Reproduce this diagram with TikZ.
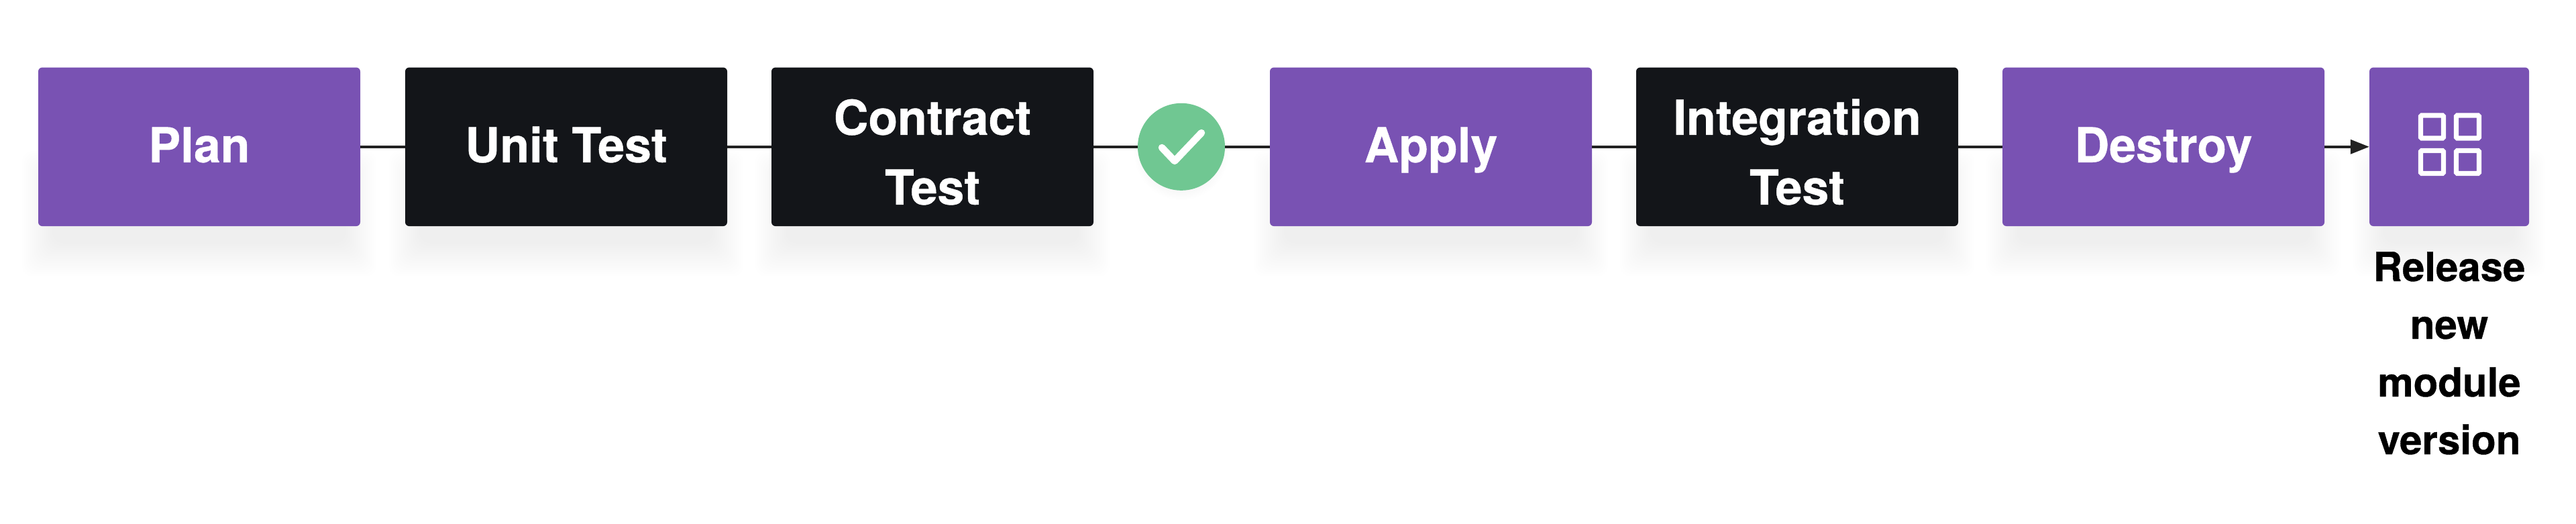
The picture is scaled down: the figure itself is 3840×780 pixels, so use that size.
\documentclass[tikz,border=0pt]{standalone}
\usepackage{fontspec}
\setmainfont{TeX Gyre Heros}[BoldFeatures={FakeBold=0.6}]
\usetikzlibrary{arrows.meta}
\definecolor{violetbox}{HTML}{7952B3}
\definecolor{darkbox}{HTML}{131519}
\definecolor{okgreen}{HTML}{70C792}
\definecolor{wire}{HTML}{222222}
\tikzset{
  x=1pt,y=-1pt,
  stage/.style={draw=none,rounded corners=6pt,minimum width=480pt,minimum height=236.5pt,inner sep=0pt,
    text=white,align=center,font=\fontsize{71.5}{104}\selectfont\bfseries},
  oneline/.style={text height=60pt,text depth=14pt},
  twoline/.style={text height=190pt,text depth=18pt},
  violetstage/.style={stage,fill=violetbox},
  darkstage/.style={stage,fill=darkbox},
  wireline/.style={draw=wire,line width=3.8pt},
  iconcell/.style={draw=white,line width=7.3pt,rounded corners=1.5pt},
}
\begin{document}
\begin{tikzpicture}
\useasboundingbox[fill=white] (0,0) rectangle (3840,780);
\foreach \cx/\w in {297/480,844/480,1390/480,2133/480,2679/480,3225/480,3651/238}{
  \foreach \k in {0,3,...,45}{
    \fill[black,opacity=0.0022,rounded corners=16pt]
      (\cx-\w/2-24+\k,225+\k) rectangle (\cx+\w/2+24-\k,412-\k*1.1);
  }
}
\foreach \k in {0,2,...,16}{
  \fill[black,opacity=0.003] (1761,228) circle[radius=70-\k];
}
\node[violetstage,oneline] (plan) at (297,218.8) {Plan};
\node[darkstage,oneline] (unit) at (844,218.8) {Unit Test};
\node[darkstage,twoline] (contract) at (1390,218.8) {Contract\\Test};
\node[circle,fill=okgreen,minimum size=130pt,inner sep=0pt] (ok) at (1761,218.8) {};
\node[violetstage,oneline] (apply) at (2133,218.8) {Apply};
\node[darkstage,twoline] (integration) at (2679,218.8) {Integration\\Test};
\node[violetstage,oneline] (destroy) at (3225,218.8) {Destroy};
\node[stage,fill=violetbox,minimum width=238pt] (release) at (3651,218.8) {};
\node[anchor=base,align=center,inner sep=0pt,text=black,font=\fontsize{60}{86}\selectfont\bfseries] (caption) at (3651,677) {Release\\new\\module\\version};
\draw[wireline] (plan.east) -- (unit.west);
\draw[wireline] (unit.east) -- (contract.west);
\draw[wireline] (contract.east) -- (ok.west);
\draw[wireline] (ok.east) -- (apply.west);
\draw[wireline] (apply.east) -- (integration.west);
\draw[wireline] (integration.east) -- (destroy.west);
\draw[wireline,-{Triangle[length=28pt,width=21pt]}] (destroy.east) -- (release.west);
\draw[white,line width=10.5pt,line cap=round,line join=round] (1732,220) -- (1751,240) -- (1791,198);
\foreach \ix in {3625.5,3678.5}{\foreach \iy in {189,241.5}{
  \draw[iconcell] (\ix-17,\iy-17) rectangle (\ix+17,\iy+17);
}}
\end{tikzpicture}
\end{document}
